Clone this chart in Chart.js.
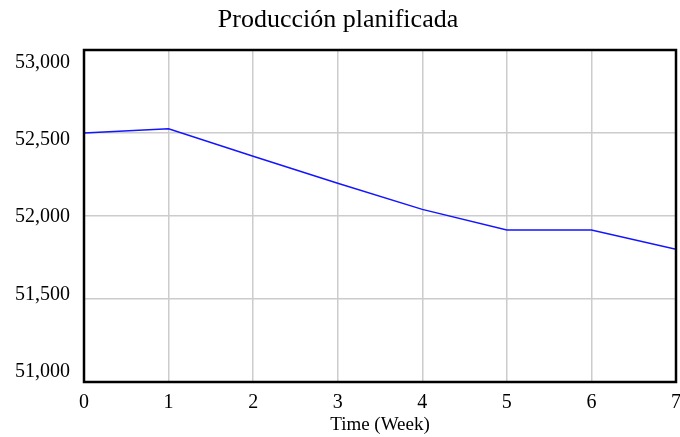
<!DOCTYPE html>
<html>
<head>
<meta charset="utf-8">
<script src="https://cdn.jsdelivr.net/npm/chart.js@4/dist/chart.umd.min.js"></script>
<style>
  html, body { margin: 0; padding: 0; background: #ffffff; }
  #wrap { width: 680px; height: 437px; }
</style>
</head>
<body>
<div id="wrap"><canvas id="c" width="680" height="437"></canvas></div>
<script>
// Data
const chartTitle = "Producción planificada";
const xAxisTitle = "Time (Week)";
const weeks = [0, 1, 2, 3, 4, 5, 6, 7];
const produccion = [52500, 52525, 52360, 52197, 52040, 51916, 51916, 51800];
const yTickValues = [51000, 51500, 52000, 52500, 53000];
const xTickValues = [0, 1, 2, 3, 4, 5, 6, 7];

const serif = "'Liberation Serif', 'Times New Roman', Times, serif";

const boxPlugin = {
  id: 'plotBox',
  afterDraw(chart) {
    const a = chart.chartArea;
    const ctx = chart.ctx;
    ctx.save();
    ctx.strokeStyle = '#000000';
    ctx.lineWidth = 2.5;
    ctx.strokeRect(a.left, a.top, a.right - a.left, a.bottom - a.top);
    ctx.restore();
  }
};

new Chart(document.getElementById('c'), {
  type: 'line',
  data: {
    datasets: [{
      data: weeks.map((w, i) => ({ x: w, y: produccion[i] })),
      borderColor: 'rgb(20,20,255)',
      borderWidth: 1.5,
      pointRadius: 0,
      tension: 0,
      fill: false,
      xAxisID: 'x',
      yAxisID: 'y'
    }]
  },
  options: {
    responsive: false,
    animation: false,
    devicePixelRatio: 1,
    layout: { padding: { left: 0, right: 4, top: 0, bottom: 0 } },
    plugins: {
      legend: { display: false },
      tooltip: { enabled: false },
      title: {
        display: true,
        text: chartTitle,
        color: '#000000',
        font: { family: serif, size: 26, weight: 'normal' },
        padding: { top: 5, bottom: 13.8 }
      }
    },
    scales: {
      x: {
        type: 'linear',
        min: 0,
        max: 7,
        afterBuildTicks(scale) { scale.ticks = xTickValues.map(v => ({ value: v })); },
        afterFit(scale) { scale.height = 55; scale.paddingLeft = 0; scale.paddingRight = 0; },
        grid: { color: '#cccccc', lineWidth: 1.5, drawTicks: false },
        border: { display: false },
        ticks: {
          color: '#000000',
          padding: 9,
          maxRotation: 0,
          font: { family: serif, size: 20 },
          callback: v => String(v)
        },
        title: {
          display: true,
          text: xAxisTitle,
          color: '#000000',
          font: { family: serif, size: 19 },
          padding: { top: 0, bottom: 1 }
        }
      },
      y: {
        type: 'linear',
        position: 'left',
        min: 51000,
        max: 53000,
        afterBuildTicks(scale) { scale.ticks = yTickValues.map(v => ({ value: v })); },
        afterFit(scale) { scale.width = 0; },
        grid: { color: '#cccccc', lineWidth: 1.5, drawTicks: false },
        border: { display: false },
        ticks: { display: false }
      },
      yl: {
        type: 'linear',
        position: 'left',
        min: 50933,
        max: 53082,
        afterBuildTicks(scale) { scale.ticks = yTickValues.map(v => ({ value: v })); },
        afterFit(scale) { scale.width = 84; },
        grid: { display: false, drawTicks: false },
        border: { display: false },
        ticks: {
          color: '#000000',
          padding: 14,
          font: { family: serif, size: 20 },
          callback: v => v.toLocaleString('en-US')
        }
      }
    }
  },
  plugins: [boxPlugin]
});
</script>
</body>
</html>
